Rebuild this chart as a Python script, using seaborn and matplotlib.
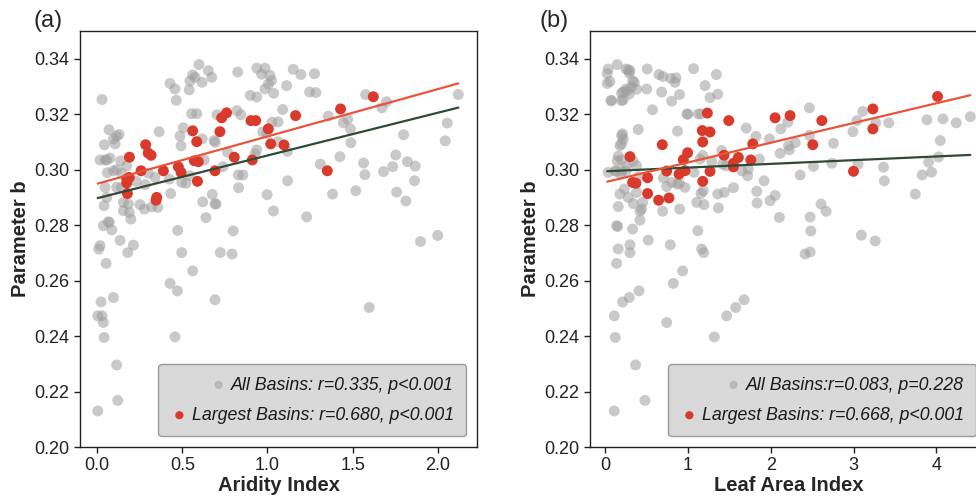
import numpy as np
import matplotlib
matplotlib.use("Agg")
import matplotlib.pyplot as plt
import seaborn as sns

# Aridity Index panel - all basins (grey)
ai_all_x = [0.029, 0.043, 0.070, 0.096, 0.115, 0.129, 0.106, 0.057, 0.076, 0.047,
            0.018, 0.060, 0.096, 0.115, 0.145, 0.139, 0.174, 0.143, 0.115, 0.047,
            0.057, 0.041, 0.154, 0.184, 0.154, 0.189, 0.198, 0.066, 0.037, 0.086,
            0.135, 0.213, 0.018, 0.010, 0.180, 0.053, 0.229, 0.282, 0.252, 0.278,
            0.321, 0.356, 0.364, 0.301, 0.340, 0.424, 0.432, 0.428, 0.457, 0.465,
            0.487, 0.493, 0.506, 0.497, 0.522, 0.545, 0.541, 0.545, 0.561, 0.575,
            0.598, 0.616, 0.653, 0.673, 0.555, 0.585, 0.617, 0.686, 0.629, 0.620,
            0.639, 0.676, 0.692, 0.698, 0.694, 0.704, 0.739, 0.765, 0.799, 0.473,
            0.825, 0.821, 0.844, 0.829, 0.856, 0.830, 0.899, 0.937, 0.937, 0.966,
            0.985, 1.015, 1.024, 1.005, 0.985, 1.036, 0.927, 0.937, 0.972, 0.995,
            1.026, 1.062, 0.998, 1.035, 1.062, 1.117, 1.089, 1.112, 1.118, 1.151,
            1.196, 1.276, 1.247, 1.284, 1.230, 1.310, 1.357, 1.382, 1.425, 1.445,
            1.471, 1.487, 1.489, 1.518, 1.564, 1.572, 1.576, 1.672, 1.699, 1.681,
            1.735, 1.753, 1.758, 1.799, 1.812, 1.821, 1.867, 1.863, 1.898, 1.999,
            2.043, 2.055, 2.120, 0.497, 0.723, 0.792, 0.561, 0.428, 0.471, 0.096,
            0.023, 0.692, 0.004, 0.029, 0.037, 0.041, 0.457, 1.597, 0.115, 0.121,
            0.004, 0.072]
ai_all_y = [0.3253, 0.3090, 0.3144, 0.3111, 0.3121, 0.3127, 0.3093, 0.3035, 0.3042, 0.3035,
            0.3035, 0.2989, 0.2996, 0.3000, 0.2987, 0.3032, 0.3014, 0.2936, 0.2936, 0.2936,
            0.2900, 0.2870, 0.2882, 0.2876, 0.2852, 0.2846, 0.2822, 0.2812, 0.2798, 0.2783,
            0.2745, 0.2728, 0.2726, 0.2714, 0.2701, 0.2662, 0.2958, 0.2946, 0.2874, 0.2858,
            0.2866, 0.2864, 0.3137, 0.2987, 0.2972, 0.2966, 0.2914, 0.3311, 0.3291, 0.3250,
            0.3121, 0.3086, 0.3151, 0.2954, 0.2951, 0.2978, 0.3288, 0.3320, 0.3342, 0.3333,
            0.3379, 0.3315, 0.3357, 0.3333, 0.3202, 0.3202, 0.3111, 0.3105, 0.3035, 0.2884,
            0.2827, 0.2911, 0.2877, 0.2876, 0.3099, 0.3198, 0.3011, 0.3063, 0.2779, 0.2781,
            0.3352, 0.3213, 0.3198, 0.2981, 0.2981, 0.2935, 0.3268, 0.3262, 0.3366, 0.3344,
            0.3366, 0.3340, 0.3321, 0.3309, 0.3291, 0.3276, 0.3057, 0.3071, 0.3136, 0.3131,
            0.3171, 0.3172, 0.2910, 0.2851, 0.3101, 0.3066, 0.3217, 0.3303, 0.2960, 0.3362,
            0.3343, 0.3346, 0.3280, 0.3278, 0.2830, 0.3020, 0.3193, 0.2912, 0.3047, 0.3169,
            0.3182, 0.3147, 0.3097, 0.2924, 0.3024, 0.2982, 0.3271, 0.3223, 0.3245, 0.2993,
            0.3011, 0.3053, 0.2919, 0.3126, 0.2887, 0.3029, 0.3013, 0.2960, 0.2741, 0.2763,
            0.3104, 0.3168, 0.3271, 0.2701, 0.2701, 0.2696, 0.2635, 0.2590, 0.2563, 0.2539,
            0.2523, 0.2531, 0.2473, 0.2473, 0.2449, 0.2395, 0.2397, 0.2503, 0.2296, 0.2168,
            0.2130, 0.2810]

# Aridity Index panel - largest basins (red)
ai_big_x = [0.190, 0.285, 0.300, 0.317, 0.258, 0.174, 0.189, 0.174, 0.178, 0.350,
            0.346, 0.389, 0.477, 0.493, 0.561, 0.585, 0.571, 0.594, 0.589, 0.692,
            0.721, 0.731, 0.760, 0.805, 0.911, 0.903, 0.931, 1.005, 1.019, 1.097,
            1.165, 1.351, 1.429, 1.621]
ai_big_y = [0.3045, 0.3090, 0.3060, 0.3052, 0.2996, 0.2966, 0.2972, 0.2952, 0.2914, 0.2900,
            0.2890, 0.2996, 0.3010, 0.2990, 0.3140, 0.3101, 0.3032, 0.3029, 0.2958, 0.2996,
            0.3137, 0.3187, 0.3205, 0.3045, 0.3035, 0.3177, 0.3177, 0.3147, 0.3093, 0.3089,
            0.3195, 0.2996, 0.3219, 0.3263]

# Leaf Area Index panel - all basins (grey)
lai_all_x = [0.028, 0.040, 0.028, 0.060, 0.072, 0.149, 0.254, 0.282, 0.302, 0.294,
             0.221, 0.201, 0.269, 0.334, 0.354, 0.322, 0.382, 0.254, 0.201, 0.294,
             0.081, 0.503, 0.511, 0.652, 0.701, 0.795, 0.845, 0.857, 0.684, 0.805,
             0.900, 1.070, 1.208, 1.268, 1.345, 1.361, 0.574, 0.876, 0.990, 1.000,
             1.127, 1.160, 0.402, 0.201, 0.221, 0.201, 0.213, 0.181, 0.161, 0.201,
             0.149, 0.262, 0.342, 0.382, 0.040, 0.121, 0.201, 0.254, 0.141, 0.193,
             0.233, 0.181, 0.161, 0.282, 0.342, 0.455, 0.443, 0.423, 0.423, 0.153,
             0.334, 0.523, 0.789, 0.407, 0.382, 0.705, 0.805, 0.898, 0.745, 0.873,
             0.966, 0.697, 0.902, 1.107, 1.121, 1.159, 1.187, 1.196, 1.180, 1.288,
             1.147, 1.075, 1.421, 1.361, 1.441, 1.369, 1.409, 1.461, 1.550, 1.705,
             1.651, 1.721, 1.731, 1.832, 1.836, 1.822, 1.864, 1.920, 1.985, 1.993,
             2.053, 2.105, 2.114, 2.122, 2.206, 2.226, 2.214, 2.295, 2.355, 2.467,
             2.467, 2.516, 2.476, 2.484, 2.607, 2.669, 2.738, 2.758, 2.992, 3.040,
             3.054, 3.094, 3.112, 3.267, 3.261, 3.361, 3.371, 3.425, 3.744, 3.828,
             3.885, 3.905, 3.941, 4.046, 4.025, 4.078, 4.239, 4.408, 0.161, 0.141,
             0.302, 0.302, 1.192, 2.415, 2.476, 0.938, 0.825, 0.411, 0.294, 0.213,
             1.679, 1.578, 1.469, 0.113, 0.745, 0.125, 1.320, 0.370, 0.483, 0.113,
             0.141, 1.167, 0.221]
lai_all_y = [0.3346, 0.3363, 0.3311, 0.3318, 0.3249, 0.3379, 0.3363, 0.3360, 0.3357, 0.3348,
             0.3280, 0.3249, 0.3285, 0.3320, 0.3315, 0.3298, 0.3290, 0.3291, 0.3276, 0.3273,
             0.3249, 0.3291, 0.3363, 0.3343, 0.3336, 0.3329, 0.3315, 0.3331, 0.3280, 0.3247,
             0.3271, 0.3364, 0.3303, 0.3260, 0.3343, 0.3272, 0.3216, 0.3139, 0.3201, 0.3200,
             0.3201, 0.3201, 0.3145, 0.3123, 0.3110, 0.3093, 0.3129, 0.3087, 0.3049, 0.3035,
             0.3032, 0.3014, 0.3030, 0.3014, 0.2990, 0.2996, 0.2996, 0.2996, 0.2994, 0.2984,
             0.2930, 0.2912, 0.2867, 0.2900, 0.2878, 0.2882, 0.2858, 0.2850, 0.2818, 0.2795,
             0.2786, 0.2746, 0.2729, 0.2975, 0.2918, 0.2970, 0.2954, 0.2951, 0.2939, 0.2948,
             0.2936, 0.2850, 0.2858, 0.2882, 0.2780, 0.2914, 0.2924, 0.2874, 0.3051, 0.3030,
             0.3038, 0.2990, 0.3020, 0.2912, 0.2918, 0.2862, 0.3069, 0.3014, 0.2935, 0.3150,
             0.2996, 0.2978, 0.3002, 0.2922, 0.2880, 0.3120, 0.3038, 0.2960, 0.3111, 0.2888,
             0.2907, 0.2828, 0.3059, 0.3147, 0.3171, 0.3072, 0.3087, 0.3097, 0.2981, 0.3223,
             0.3124, 0.3012, 0.2829, 0.2779, 0.2876, 0.2850, 0.3023, 0.3095, 0.3137, 0.3177,
             0.3020, 0.2764, 0.3210, 0.3169, 0.2743, 0.3009, 0.2960, 0.3169, 0.2912, 0.2981,
             0.3180, 0.3027, 0.2991, 0.3105, 0.3046, 0.3183, 0.3169, 0.3191, 0.2714, 0.2662,
             0.2729, 0.2701, 0.2701, 0.2696, 0.2703, 0.2635, 0.2590, 0.2563, 0.2539, 0.2523,
             0.2531, 0.2503, 0.2473, 0.2473, 0.2449, 0.2395, 0.2397, 0.2296, 0.2168, 0.2130,
             0.2798, 0.2714, 0.3252]

# Leaf Area Index panel - largest basins (red)
lai_big_x = [0.302, 0.334, 0.374, 0.515, 0.515, 0.692, 0.648, 0.773, 0.745, 0.894,
             0.946, 0.998, 0.966, 1.175, 1.268, 1.180, 1.236, 1.180, 1.268, 1.437,
             1.494, 1.550, 1.550, 1.610, 1.760, 1.784, 2.053, 2.234, 2.508, 2.617,
             2.999, 3.233, 3.233, 4.013]
lai_big_y = [0.3047, 0.2954, 0.2951, 0.2971, 0.2914, 0.3090, 0.2890, 0.2898, 0.2995, 0.2984,
             0.3036, 0.3061, 0.2996, 0.3141, 0.3136, 0.3100, 0.3204, 0.2958, 0.2994, 0.3052,
             0.3177, 0.3023, 0.3010, 0.3044, 0.3035, 0.3093, 0.3187, 0.3195, 0.3090, 0.3177,
             0.2994, 0.3219, 0.3147, 0.3264]

ai_labels = ["All Basins: r=0.335, p<0.001", "Largest Basins: r=0.680, p<0.001"]
lai_labels = ["All Basins:r=0.083, p=0.228", "Largest Basins: r=0.668, p<0.001"]

GREY = "#9e9e9e"
RED = "#d93a2b"
RED_LINE = "#e8553a"
DARK_LINE = "#2f4a35"

sns.set_theme(style="ticks")
plt.rcParams["font.family"] = ["Liberation Sans", "DejaVu Sans"]
plt.rcParams["axes.edgecolor"] = "#222222"
plt.rcParams["xtick.color"] = "#222222"
plt.rcParams["ytick.color"] = "#222222"

fig = plt.figure(figsize=(9.76, 4.97), dpi=100)
ax1 = fig.add_axes([0.082, 0.1006, 0.4068, 0.837])
ax2 = fig.add_axes([0.6045, 0.1006, 0.4068, 0.837])


def panel(ax, gx, gy, rx, ry, labels, xlabel, xlim, xticks, xfmt):
    all_x = np.array(gx + rx)
    all_y = np.array(gy + ry)
    sns.scatterplot(x=gx, y=gy, ax=ax, color=GREY, alpha=0.55, s=62,
                    edgecolor="none", label=labels[0], zorder=2)
    sns.scatterplot(x=rx, y=ry, ax=ax, color=RED, alpha=1, s=62,
                    edgecolor="none", label=labels[1], zorder=3)
    # linear fits, drawn across full data range
    xs = np.array([all_x.min(), all_x.max()])
    k, b = np.polyfit(all_x, all_y, 1)
    sns.lineplot(x=xs, y=k * xs + b, ax=ax, color=DARK_LINE, lw=1.6, zorder=4)
    k2, b2 = np.polyfit(np.array(rx), np.array(ry), 1)
    sns.lineplot(x=xs, y=k2 * xs + b2, ax=ax, color=RED_LINE, lw=1.6, zorder=4)

    ax.set_xlim(*xlim)
    ax.set_ylim(0.20, 0.35)
    ax.set_yticks(np.arange(0.20, 0.341, 0.02))
    ax.set_yticklabels([f"{v:.2f}" for v in np.arange(0.20, 0.341, 0.02)])
    ax.set_xticks(xticks)
    ax.set_xticklabels([xfmt.format(v) for v in xticks])
    ax.tick_params(labelsize=13, length=4, width=1)
    ax.set_xlabel(xlabel, fontsize=14.5, fontweight="bold", labelpad=1)
    ax.set_ylabel("Parameter b", fontsize=14.5, fontweight="bold", labelpad=3)
    for sp in ax.spines.values():
        sp.set_linewidth(1.0)

    leg = ax.legend(loc="lower right", fontsize=12.8, frameon=True, fancybox=True,
                    facecolor="#d9d9d9", edgecolor="#9a9a9a", framealpha=1,
                    markerscale=0.75, handletextpad=0.2, borderpad=0.7,
                    labelspacing=0.75, handlelength=1.0, borderaxespad=0.6)
    for t in leg.get_texts():
        t.set_fontstyle("italic")
        t.set_color("#1a1a1a")
    # right-align each row while keeping the marker first
    for col in leg._legend_handle_box.get_children():
        col.align = "right"


panel(ax1, ai_all_x, ai_all_y, ai_big_x, ai_big_y, ai_labels, "Aridity Index",
      (-0.1, 2.23), [0.0, 0.5, 1.0, 1.5, 2.0], "{:.1f}")
panel(ax2, lai_all_x, lai_all_y, lai_big_x, lai_big_y, lai_labels, "Leaf Area Index",
      (-0.18, 4.61), [0, 1, 2, 3, 4], "{:d}")

fig.text(0.034, 0.958, "(a)", fontsize=17, va="center")
fig.text(0.553, 0.958, "(b)", fontsize=17, va="center")

fig.savefig("out.png", dpi=100)
